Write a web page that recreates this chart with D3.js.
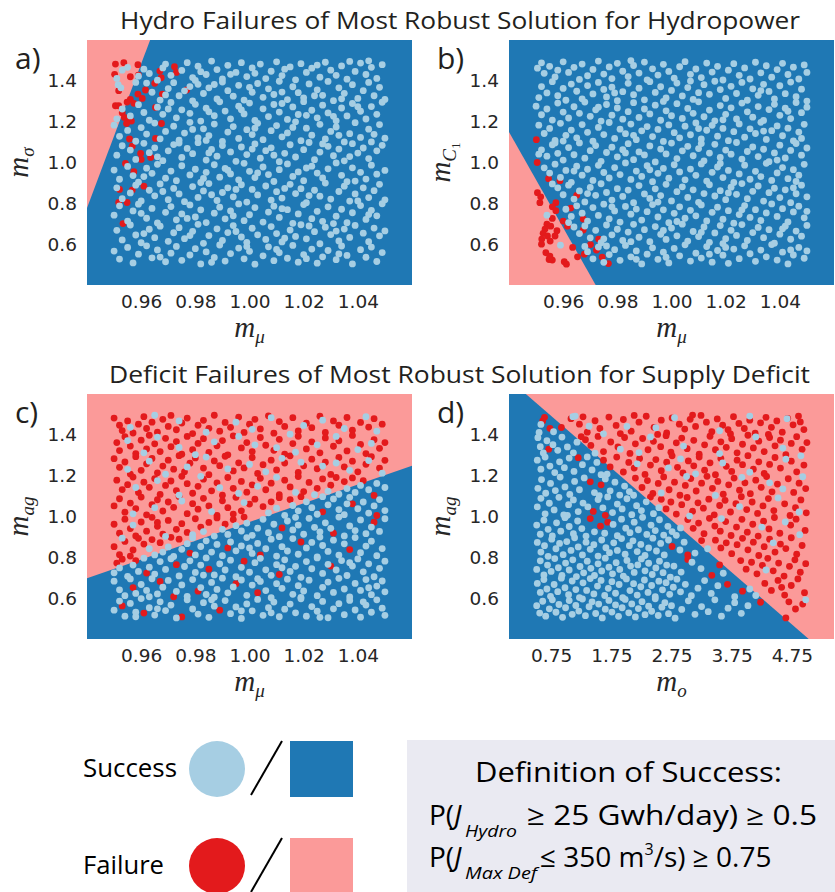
<!DOCTYPE html>
<html><head><meta charset="utf-8">
<script src="https://cdn.jsdelivr.net/npm/d3@7"></script>
<style>body{margin:0;background:#fff}</style>
</head><body>
<svg id="fig" width="835" height="892"></svg>
<script>
// Axis ticks
const muTicks=[0.96,0.98,1.00,1.02,1.04];
const oTicks=[0.75,1.75,2.75,3.75,4.75];
const mTicks=[0.6,0.8,1.0,1.2,1.4];
// Plotted ranges (sampled range padded by 10%)
const muDomain=[0.94,1.06], oDomain=[0.05,5.45], mDomain=[0.4,1.6];
// Classifier boundaries: two end points [x, y] in data units
const boundaryHydroSigma=[[0.9633,1.6],[0.94,0.777]];
const boundaryHydroC1=[[0.94,1.149],[0.972,0.4]];
const boundaryDeficitMu=[[0.94,0.698],[1.06,1.248]];
const boundaryDeficitO=[[0.33,1.6],[5.03,0.4]];

// a) hydro outcome vs (m_mu, m_sigma)
const hydroSigmaFail=[[.9505,1.482],[.9536,1.489],[.9588,1.479],[.9502,1.432],[.956,1.42],[.959,1.428],[.9669,1.448],[.9723,1.469],[.973,1.441],[.9674,1.415],[.965,1.388],[.9768,1.355],[.9517,1.352],[.9616,1.355],[.9588,1.335],[.9604,1.314],[.9678,1.335],[.956,1.309],[.9548,1.296],[.9573,1.29],[.9505,1.278],[.9517,1.278],[.9653,1.27],[.953,1.244],[.9538,1.221],[.9551,1.203],[.9564,1.203],[.9546,1.191],[.9675,1.191],[.9557,1.115],[.9653,1.118],[.9567,1.08],[.9598,1.044],[.9635,1.025],[.96,1.015],[.9542,.995],[.9573,.955],[.961,.884],[.952,.868],[.9567,.865],[.9517,.804],[.9548,.804],[.9533,.701]];
const hydroSigmaOk=[
[.951,1.412],[.953,1.452],[.955,1.466],[.959,1.423],[.961,1.457],[.963,1.436],[.966,1.403],[.968,1.463],[.969,1.482],[.971,1.427],[.975,1.451],[.977,1.489],[.979,1.416],[.981,1.472],[.982,1.445],[.984,1.431],[.986,1.497],[.988,1.455],[.990,1.409],[.992,1.476],[.993,1.432],[.995,1.441],[.997,1.489],[.999,1.421],[1.001,1.463],[1.004,1.482],[1.006,1.411],[1.008,1.447],[1.010,1.493],[1.012,1.426],[1.013,1.457],[1.015,1.468],[1.017,1.405],[1.019,1.484],[1.021,1.441],[1.023,1.462],[1.025,1.477],[1.026,1.418],[1.028,1.491],[1.030,1.452],[1.032,1.427],[1.034,1.473],[1.036,1.408],[1.037,1.495],[1.039,1.446],[1.041,1.487],[1.043,1.431],[1.045,1.466],[1.047,1.412],[1.049,1.479],[1.044,1.498],[1.002,1.437],[.980,1.402],
[.9515,1.381],[.9525,1.366],[.958,1.392],[.962,1.389],[.964,1.344],[.967,1.306],[.970,1.362],[.972,1.391],[.974,1.327],[.976,1.351],[.979,1.302],[.981,1.383],[.983,1.338],[.985,1.366],[.988,1.311],[.990,1.394],[.992,1.352],[.994,1.325],[.996,1.378],[.998,1.306],[1.001,1.344],[1.003,1.387],[1.005,1.319],[1.007,1.361],[1.009,1.333],[1.011,1.398],[1.014,1.308],[1.016,1.371],[1.018,1.342],[1.020,1.317],[1.022,1.385],[1.025,1.356],[1.027,1.329],[1.029,1.397],[1.031,1.303],[1.033,1.366],[1.035,1.339],[1.038,1.381],[1.040,1.314],[1.042,1.352],[1.044,1.392],[1.046,1.327],[1.048,1.368],[1.050,1.309],[.978,1.372],[1.012,1.345],[1.034,1.312],[.987,1.382],[1.000,1.368],[1.024,1.327],[.969,1.331],
[.951,1.214],[.953,1.262],[.956,1.228],[.959,1.283],[.961,1.245],[.963,1.207],[.966,1.271],[.968,1.236],[.971,1.294],[.973,1.219],[.975,1.258],[.978,1.241],[.980,1.285],[.982,1.203],[.984,1.266],[.987,1.229],[.989,1.297],[.991,1.252],[.993,1.214],[.996,1.276],[.998,1.238],[1.000,1.291],[1.002,1.206],[1.005,1.263],[1.007,1.225],[1.009,1.284],[1.011,1.247],[1.014,1.211],[1.016,1.272],[1.018,1.235],[1.020,1.298],[1.023,1.256],[1.025,1.219],[1.027,1.281],[1.029,1.243],[1.032,1.204],[1.034,1.267],[1.036,1.228],[1.038,1.289],[1.041,1.251],[1.043,1.213],[1.045,1.274],[1.047,1.236],[1.049,1.295],[.997,1.258],[1.021,1.231],[1.040,1.273],[.970,1.262],[.985,1.248],[1.012,1.289],[1.031,1.226],
[.950,1.183],[.952,1.128],[.955,1.157],[.958,1.104],[.960,1.171],[.962,1.139],[.965,1.193],[.967,1.116],[.969,1.152],[.972,1.178],[.974,1.109],[.976,1.144],[.978,1.197],[.981,1.121],[.983,1.165],[.985,1.132],[.987,1.188],[.990,1.103],[.992,1.149],[.994,1.176],[.996,1.118],[.999,1.161],[1.001,1.137],[1.003,1.192],[1.005,1.112],[1.008,1.156],[1.010,1.181],[1.012,1.126],[1.014,1.145],[1.017,1.199],[1.019,1.107],[1.021,1.168],[1.023,1.134],[1.026,1.187],[1.028,1.115],[1.030,1.152],[1.032,1.174],[1.035,1.101],[1.037,1.141],[1.039,1.195],[1.041,1.123],[1.044,1.163],[1.046,1.138],[1.048,1.186],[1.050,1.119],[.979,1.162],[1.002,1.168],[1.033,1.133],[.984,1.108],[1.016,1.172],[1.045,1.101],
[.951,1.036],[.953,1.082],[.956,1.061],[.958,1.015],[.961,1.094],[.963,1.048],[.965,1.072],[.968,1.009],[.970,1.057],[.972,1.088],[.975,1.025],[.977,1.069],[.979,1.043],[.981,1.097],[.984,1.012],[.986,1.064],[.988,1.031],[.990,1.083],[.993,1.052],[.995,1.006],[.997,1.076],[.999,1.039],[1.002,1.091],[1.004,1.021],[1.006,1.058],[1.008,1.072],[1.011,1.004],[1.013,1.045],[1.015,1.087],[1.017,1.027],[1.020,1.063],[1.022,1.098],[1.024,1.014],[1.026,1.051],[1.029,1.079],[1.031,1.033],[1.033,1.066],[1.035,1.008],[1.038,1.092],[1.040,1.046],[1.042,1.071],[1.044,1.019],[1.047,1.057],[1.049,1.084],[.974,1.095],[1.009,1.036],[1.037,1.029],[.985,1.047],[.966,1.028],[1.001,1.066],[1.027,1.091],
[.950,.963],[.952,.918],[.955,.981],[.957,.936],[.959,.904],[.962,.972],[.964,.947],[.966,.991],[.969,.923],[.971,.958],[.973,.911],[.975,.984],[.978,.939],[.980,.967],[.982,.902],[.984,.952],[.987,.989],[.989,.928],[.991,.971],[.993,.944],[.996,.915],[.998,.996],[1.000,.957],[1.002,.926],[1.005,.978],[1.007,.941],[1.009,.907],[1.011,.965],[1.014,.993],[1.016,.932],[1.018,.954],[1.020,.911],[1.023,.982],[1.025,.948],[1.027,.924],[1.029,.969],[1.032,.998],[1.034,.937],[1.036,.906],[1.038,.974],[1.041,.952],[1.043,.919],[1.045,.987],[1.047,.943],[1.050,.961],[.983,.922],[1.021,.973],[1.003,.949],[.961,.931],[.992,.962],[1.039,.909],
[.951,.876],[.953,.823],[.956,.851],[.958,.889],[.960,.812],[.963,.864],[.965,.837],[.967,.895],[.970,.818],[.972,.873],[.974,.846],[.976,.808],[.979,.882],[.981,.829],[.983,.861],[.985,.897],[.988,.814],[.990,.853],[.992,.876],[.994,.832],[.997,.891],[.999,.806],[1.001,.868],[1.003,.841],[1.006,.885],[1.008,.816],[1.010,.857],[1.012,.826],[1.015,.893],[1.017,.848],[1.019,.872],[1.021,.803],[1.024,.864],[1.026,.835],[1.028,.899],[1.030,.821],[1.033,.858],[1.035,.884],[1.037,.811],[1.039,.846],[1.042,.876],[1.044,.828],[1.046,.862],[1.048,.893],[1.050,.817],[.986,.842],[1.013,.873],[1.040,.812],[.968,.858],[.995,.868],[1.022,.838],
[.950,.742],[.952,.788],[.955,.713],[.957,.763],[.959,.796],[.962,.727],[.964,.775],[.966,.704],[.969,.756],[.971,.784],[.973,.719],[.975,.748],[.978,.792],[.980,.733],[.982,.768],[.984,.706],[.987,.752],[.989,.781],[.991,.724],[.993,.763],[.996,.797],[.998,.715],[1.000,.744],[1.002,.779],[1.005,.708],[1.007,.757],[1.009,.786],[1.011,.731],[1.014,.769],[1.016,.702],[1.018,.748],[1.020,.794],[1.023,.725],[1.025,.761],[1.027,.712],[1.029,.783],[1.032,.737],[1.034,.771],[1.036,.705],[1.038,.754],[1.041,.789],[1.043,.721],[1.045,.766],[1.047,.739],[1.049,.798],[.977,.726],[1.012,.774],[1.031,.701],[.960,.751],[.994,.739],[1.044,.745],
[.951,.668],[.953,.621],[.956,.694],[.958,.645],[.960,.607],[.963,.673],[.965,.632],[.967,.688],[.970,.614],[.972,.656],[.974,.681],[.976,.627],[.979,.663],[.981,.697],[.983,.604],[.985,.642],[.988,.675],[.990,.618],[.992,.657],[.994,.691],[.997,.635],[.999,.609],[1.001,.678],[1.003,.646],[1.006,.623],[1.008,.686],[1.010,.652],[1.012,.611],[1.015,.669],[1.017,.638],[1.019,.695],[1.021,.626],[1.024,.661],[1.026,.602],[1.028,.683],[1.030,.647],[1.033,.616],[1.035,.674],[1.037,.633],[1.039,.692],[1.042,.654],[1.044,.612],[1.046,.679],[1.048,.641],[1.050,.665],[.995,.662],[1.022,.689],[.961,.652],[.978,.642],[1.013,.629],[1.032,.664],
[.950,.566],[.952,.527],[.955,.584],[.957,.508],[.959,.551],[.962,.592],[.964,.533],[.966,.572],[.969,.514],[.971,.556],[.973,.589],[.975,.521],[.978,.547],[.980,.578],[.982,.503],[.984,.562],[.987,.535],[.989,.596],[.991,.517],[.993,.554],[.996,.581],[.998,.528],[1.000,.565],[1.002,.502],[1.005,.543],[1.007,.587],[1.009,.519],[1.011,.558],[1.014,.531],[1.016,.594],[1.018,.512],[1.020,.549],[1.023,.576],[1.025,.507],[1.027,.538],[1.029,.569],[1.032,.524],[1.034,.591],[1.036,.545],[1.038,.503],[1.041,.573],[1.043,.536],[1.045,.586],[1.047,.515],[1.049,.559],[1.010,.574],[.986,.511],[1.033,.552],[.967,.537],[.999,.589],[1.021,.529]];

// b) hydro outcome vs (m_mu, m_C1)
const hydroC1Fail=[[.9501,1.112],[.9504,1.0],[.9546,.921],[.9588,.911],[.9505,.852],[.9517,.832],[.9514,.803],[.9573,.803],[.956,.783],[.9573,.764],[.965,.839],[.956,.726],[.96,.713],[.9674,.723],[.9616,.688],[.954,.698],[.9554,.688],[.9577,.666],[.9533,.674],[.9526,.653],[.9542,.64],[.957,.64],[.9521,.625],[.9552,.615],[.952,.6],[.9674,.669],[.9635,.584],[.9731,.625],[.9536,.558],[.9551,.541],[.956,.522],[.9548,.525],[.9653,.538],[.9678,.551],[.9604,.514],[.9612,.502],[.9723,.571],[.9767,.505],[.9701,.598],[.9744,.537],[.9628,.777]];
const hydroC1Ok=[
[.9505,1.462],[.952,1.488],[.953,1.437],[.955,1.471],[.957,1.419],[.958,1.452],[.960,1.493],[.962,1.441],[.964,1.466],[.966,1.407],[.967,1.482],[.969,1.425],[.971,1.456],[.973,1.497],[.975,1.433],[.977,1.468],[.978,1.411],[.980,1.486],[.982,1.447],[.984,1.421],[.986,1.475],[.988,1.438],[.990,1.492],[.991,1.405],[.993,1.459],[.995,1.428],[.997,1.481],[.999,1.446],[1.001,1.413],[1.003,1.469],[1.005,1.494],[1.007,1.432],[1.009,1.458],[1.011,1.416],[1.013,1.487],[1.015,1.443],[1.017,1.471],[1.019,1.404],[1.021,1.452],[1.023,1.484],[1.025,1.427],[1.027,1.463],[1.029,1.409],[1.031,1.491],[1.033,1.439],[1.035,1.474],[1.037,1.418],[1.039,1.455],[1.041,1.486],[1.043,1.431],[1.045,1.467],[1.047,1.409],[1.049,1.478],[1.050,1.441],[.985,1.499],
[.951,1.318],[.952,1.372],[.954,1.341],[.956,1.396],[.958,1.327],[.960,1.363],[.961,1.305],[.963,1.384],[.965,1.349],[.967,1.312],[.969,1.377],[.971,1.336],[.973,1.392],[.975,1.358],[.976,1.321],[.978,1.369],[.980,1.303],[.982,1.347],[.984,1.388],[.986,1.332],[.988,1.364],[.990,1.307],[.992,1.396],[.994,1.343],[.996,1.371],[.998,1.316],[1.000,1.353],[1.002,1.389],[1.004,1.326],[1.006,1.367],[1.008,1.309],[1.010,1.342],[1.012,1.381],[1.014,1.334],[1.016,1.398],[1.018,1.357],[1.020,1.314],[1.022,1.373],[1.024,1.338],[1.026,1.392],[1.028,1.305],[1.030,1.361],[1.032,1.329],[1.034,1.383],[1.036,1.348],[1.038,1.311],[1.040,1.376],[1.042,1.337],[1.044,1.394],[1.046,1.322],[1.048,1.359],[1.050,1.301],[.979,1.341],[1.007,1.399],[1.033,1.352],
[.950,1.276],[.952,1.234],[.954,1.262],[.956,1.208],[.958,1.291],[.960,1.247],[.962,1.218],[.964,1.273],[.966,1.241],[.968,1.296],[.970,1.226],[.972,1.258],[.974,1.203],[.976,1.284],[.978,1.232],[.980,1.267],[.982,1.212],[.984,1.249],[.986,1.293],[.988,1.221],[.990,1.262],[.992,1.238],[.994,1.281],[.996,1.207],[.998,1.253],[1.000,1.229],[1.002,1.288],[1.004,1.216],[1.006,1.265],[1.008,1.241],[1.010,1.297],[1.012,1.224],[1.014,1.257],[1.016,1.204],[1.018,1.279],[1.020,1.236],[1.022,1.268],[1.024,1.213],[1.026,1.291],[1.028,1.248],[1.030,1.222],[1.032,1.274],[1.034,1.206],[1.036,1.259],[1.038,1.285],[1.040,1.231],[1.042,1.266],[1.044,1.215],[1.046,1.294],[1.048,1.244],[1.050,1.271],[.973,1.271],[.997,1.299],[1.019,1.209],[1.043,1.251],
[.951,1.183],[.953,1.142],[.955,1.167],[.957,1.108],[.959,1.192],[.961,1.133],[.963,1.159],[.965,1.121],[.967,1.186],[.969,1.148],[.971,1.104],[.973,1.172],[.975,1.137],[.977,1.196],[.979,1.118],[.981,1.163],[.983,1.141],[.985,1.188],[.987,1.112],[.989,1.155],[.991,1.176],[.993,1.127],[.995,1.162],[.997,1.103],[.999,1.184],[1.001,1.146],[1.003,1.121],[1.005,1.178],[1.007,1.136],[1.009,1.194],[1.011,1.115],[1.013,1.158],[1.015,1.182],[1.017,1.129],[1.019,1.167],[1.021,1.107],[1.023,1.151],[1.025,1.189],[1.027,1.124],[1.029,1.165],[1.031,1.142],[1.033,1.197],[1.035,1.113],[1.037,1.156],[1.039,1.179],[1.041,1.131],[1.043,1.168],[1.045,1.106],[1.047,1.149],[1.049,1.187],[.960,1.105],[.986,1.133],[1.010,1.166],[1.034,1.154],[1.048,1.118],
[.952,1.062],[.954,1.031],[.956,1.087],[.958,1.045],[.960,1.012],[.962,1.073],[.964,1.038],[.966,1.096],[.968,1.021],[.970,1.058],[.972,1.083],[.974,1.006],[.976,1.049],[.978,1.075],[.980,1.028],[.982,1.063],[.984,1.092],[.986,1.014],[.988,1.052],[.990,1.037],[.992,1.081],[.994,1.003],[.996,1.066],[.998,1.042],[1.000,1.095],[1.002,1.019],[1.004,1.057],[1.006,1.079],[1.008,1.033],[1.010,1.068],[1.012,1.008],[1.014,1.046],[1.016,1.089],[1.018,1.025],[1.020,1.061],[1.022,1.041],[1.024,1.098],[1.026,1.017],[1.028,1.054],[1.030,1.076],[1.032,1.029],[1.034,1.065],[1.036,1.004],[1.038,1.047],[1.040,1.085],[1.042,1.022],[1.044,1.059],[1.046,1.093],[1.048,1.036],[1.050,1.071],[.951,1.041],[.957,1.096],[.983,1.047],[1.011,1.093],[1.039,1.012],
[.953,.974],[.955,.948],[.957,.992],[.959,.927],[.961,.961],[.963,.903],[.965,.982],[.967,.938],[.969,.967],[.971,.912],[.973,.986],[.975,.951],[.977,.924],[.979,.975],[.981,.941],[.983,.998],[.985,.917],[.987,.958],[.989,.932],[.991,.984],[.993,.906],[.995,.947],[.997,.971],[.999,.923],[1.001,.989],[1.003,.954],[1.005,.915],[1.007,.968],[1.009,.937],[1.011,.993],[1.013,.909],[1.015,.952],[1.017,.978],[1.019,.926],[1.021,.961],[1.023,.902],[1.025,.944],[1.027,.987],[1.029,.918],[1.031,.957],[1.033,.931],[1.035,.996],[1.037,.912],[1.039,.949],[1.041,.975],[1.043,.921],[1.045,.965],[1.047,.938],[1.049,.991],[.964,.958],[.992,.964],[1.018,.995],[1.046,.907],
[.958,.876],[.960,.842],[.962,.889],[.964,.821],[.966,.861],[.968,.807],[.970,.878],[.972,.839],[.974,.896],[.976,.853],[.978,.816],[.980,.872],[.982,.834],[.984,.865],[.986,.803],[.988,.887],[.990,.846],[.992,.824],[.994,.871],[.996,.838],[.998,.893],[1.000,.812],[1.002,.857],[1.004,.881],[1.006,.829],[1.008,.866],[1.010,.805],[1.012,.848],[1.014,.891],[1.016,.836],[1.018,.862],[1.020,.818],[1.022,.879],[1.024,.844],[1.026,.897],[1.028,.823],[1.030,.859],[1.032,.885],[1.034,.811],[1.036,.852],[1.038,.874],[1.040,.828],[1.042,.866],[1.044,.803],[1.046,.847],[1.048,.889],[1.050,.832],[.969,.848],[.995,.806],[1.021,.851],[1.045,.876],[.956,.895],
[.954,.742],[.961,.771],[.963,.736],[.965,.788],[.967,.752],[.969,.713],[.971,.779],[.973,.741],[.975,.796],[.977,.724],[.979,.763],[.981,.708],[.983,.785],[.985,.747],[.987,.772],[.989,.718],[.991,.759],[.993,.794],[.995,.733],[.997,.768],[.999,.705],[1.001,.751],[1.003,.783],[1.005,.727],[1.007,.766],[1.009,.739],[1.011,.792],[1.013,.714],[1.015,.756],[1.017,.781],[1.019,.722],[1.021,.764],[1.023,.703],[1.025,.745],[1.027,.789],[1.029,.731],[1.031,.769],[1.033,.716],[1.035,.753],[1.037,.797],[1.039,.736],[1.041,.774],[1.043,.709],[1.045,.758],[1.047,.786],[1.049,.729],[.978,.783],[1.002,.711],[1.026,.768],[1.050,.761],[.962,.706],
[.966,.652],[.968,.689],[.970,.631],[.972,.668],[.974,.607],[.976,.694],[.978,.646],[.980,.673],[.982,.618],[.984,.659],[.986,.697],[.988,.634],[.990,.671],[.992,.612],[.994,.686],[.996,.648],[.998,.623],[1.000,.679],[1.002,.641],[1.004,.698],[1.006,.615],[1.008,.662],[1.010,.637],[1.012,.684],[1.014,.609],[1.016,.655],[1.018,.691],[1.020,.627],[1.022,.668],[1.024,.643],[1.026,.696],[1.028,.618],[1.030,.657],[1.032,.682],[1.034,.632],[1.036,.671],[1.038,.605],[1.040,.649],[1.042,.688],[1.044,.624],[1.046,.664],[1.048,.639],[1.050,.692],[.975,.626],[.997,.667],[1.019,.603],[1.041,.675],[.964,.684],[.985,.612],[1.011,.658],
[.959,.595],[.969,.563],[.971,.528],[.973,.586],[.975,.511],[.977,.549],[.979,.573],[.981,.521],[.983,.594],[.985,.538],[.987,.567],[.989,.503],[.991,.551],[.993,.582],[.995,.526],[.997,.561],[.999,.508],[1.001,.579],[1.003,.543],[1.005,.597],[1.007,.517],[1.009,.556],[1.011,.532],[1.013,.588],[1.015,.512],[1.017,.569],[1.019,.546],[1.021,.506],[1.023,.576],[1.025,.529],[1.027,.592],[1.029,.553],[1.031,.516],[1.033,.571],[1.035,.538],[1.037,.598],[1.039,.522],[1.041,.561],[1.043,.503],[1.045,.547],[1.047,.584],[1.049,.531],[1.050,.567],[.976,.591],[.998,.536],[1.020,.584],[1.044,.572],[.987,.526],[1.014,.551],[.968,.589]];

// c) deficit outcome vs (m_mu, m_ag)
const deficitMuFail=[
[.950,1.482],[.952,1.447],[.953,1.421],[.955,1.468],[.957,1.409],[.959,1.452],[.961,1.489],[.962,1.431],[.964,1.462],[.966,1.413],[.968,1.476],[.970,1.441],[.971,1.495],[.973,1.425],[.975,1.458],[.977,1.482],[.979,1.406],[.981,1.447],[.983,1.471],[.985,1.432],[.987,1.496],[.989,1.418],[.991,1.461],[.993,1.437],[.996,1.487],[.998,1.412],[1.000,1.452],[1.002,1.476],[1.004,1.429],[1.007,1.493],[1.009,1.408],[1.011,1.465],[1.013,1.441],[1.016,1.484],[1.018,1.419],[1.021,1.457],[1.023,1.435],[1.026,1.491],[1.028,1.412],[1.031,1.468],[1.033,1.447],[1.036,1.485],[1.038,1.423],[1.041,1.461],[1.044,1.438],[1.046,1.479],[1.049,1.452],
[.951,1.362],[.952,1.323],[.954,1.391],[.956,1.345],[.958,1.308],[.960,1.374],[.962,1.331],[.963,1.398],[.965,1.356],[.967,1.318],[.969,1.383],[.971,1.342],[.973,1.367],[.975,1.305],[.977,1.392],[.979,1.327],[.981,1.358],[.983,1.381],[.985,1.314],[.988,1.346],[.990,1.372],[.992,1.302],[.994,1.395],[.997,1.336],[.999,1.362],[1.001,1.318],[1.004,1.387],[1.006,1.349],[1.009,1.324],[1.011,1.378],[1.013,1.306],[1.016,1.357],[1.018,1.393],[1.021,1.331],[1.023,1.366],[1.026,1.312],[1.028,1.385],[1.031,1.344],[1.033,1.371],[1.036,1.321],[1.038,1.397],[1.041,1.353],[1.043,1.308],[1.046,1.376],[1.048,1.334],[1.050,1.362],
[.950,1.283],[.952,1.241],[.954,1.267],[.956,1.208],[.958,1.293],[.960,1.226],[.962,1.258],[.964,1.284],[.966,1.214],[.968,1.247],[.970,1.276],[.972,1.232],[.974,1.298],[.976,1.219],[.978,1.261],[.980,1.287],[.983,1.237],[.985,1.205],[.987,1.272],[.989,1.249],[.991,1.295],[.994,1.223],[.996,1.263],[.998,1.238],[1.001,1.289],[1.003,1.211],[1.005,1.254],[1.008,1.276],[1.010,1.228],[1.013,1.262],[1.015,1.297],[1.018,1.216],[1.020,1.248],[1.023,1.281],[1.025,1.234],[1.028,1.266],[1.030,1.206],[1.033,1.289],[1.035,1.243],[1.038,1.271],[1.040,1.219],[1.043,1.256],[1.045,1.293],[1.048,1.237],[1.050,1.275],
[.951,1.178],[.953,1.132],[.955,1.156],[.957,1.193],[.959,1.117],[.961,1.168],[.963,1.143],[.965,1.186],[.967,1.108],[.969,1.152],[.971,1.174],[.973,1.127],[.975,1.197],[.977,1.161],[.979,1.114],[.981,1.148],[.983,1.183],[.986,1.126],[.988,1.165],[.990,1.104],[.992,1.191],[.994,1.138],[.997,1.172],[.999,1.119],[1.001,1.155],[1.004,1.187],[1.006,1.131],[1.008,1.163],[1.011,1.107],[1.013,1.178],[1.015,1.145],[1.018,1.196],[1.020,1.122],[1.022,1.167],[1.025,1.138],[1.027,1.184],[1.030,1.153],[1.032,1.191],[1.035,1.171],[1.038,1.189],[1.042,1.175],[1.046,1.103],
[.950,1.052],[.952,1.087],[.954,1.021],[.956,1.066],[.958,1.039],[.960,1.095],[.962,1.008],[.964,1.058],[.966,1.082],[.968,1.027],[.970,1.071],[.972,1.045],[.974,1.098],[.977,1.014],[.979,1.063],[.981,1.036],[.983,1.089],[.985,1.052],[.988,1.005],[.990,1.077],[.992,1.043],[.995,1.094],[.997,1.028],[1.000,1.061],[1.002,1.085],[1.005,1.048],[1.008,1.072],[1.011,1.092],[1.015,1.083],[1.019,1.097],[.994,1.012],[1.027,1.023],[1.038,1.062],[1.047,1.005],
[.950,.962],[.952,.918],[.954,.987],[.956,.941],[.958,.905],[.960,.973],[.962,.928],[.964,.996],[.966,.952],[.968,.914],[.970,.981],[.973,.937],[.975,.965],[.977,.922],[.980,.989],[.982,.948],[.985,.971],[.988,.993],[.991,.962],[.994,.985],[.998,.997],[.966,.971],[1.012,.944],[1.031,.918],[1.046,.972],
[.950,.852],[.952,.813],[.954,.878],[.957,.836],[.959,.893],[.961,.865],[.964,.887],[.967,.872],[.971,.898],[.974,.889],[.956,.806],[.978,.821],[.992,.846],[1.004,.812],[1.019,.875],[1.037,.838],
[.951,.772],[.953,.791],[.958,.784],[.962,.723],[.973,.764],[.985,.742],[.998,.781],[1.011,.716],[1.030,.757],
[.957,.652],[.967,.682],[.981,.634],[.995,.671],[1.003,.627],[.972,.607],
[.953,.562],[.961,.527],[.975,.508],[.989,.541]];
const deficitMuOk=[
[.956,1.437],[.965,1.496],[.974,1.468],[.984,1.413],[.995,1.462],[1.001,1.427],[1.008,1.484],[1.015,1.403],[1.020,1.446],[1.027,1.472],[1.035,1.431],[1.043,1.489],[1.047,1.418],
[.955,1.372],[.961,1.312],[.966,1.389],[.974,1.338],[.980,1.303],[.987,1.366],[.996,1.392],[1.002,1.351],[1.010,1.337],[1.017,1.315],[1.025,1.351],[1.032,1.392],[1.040,1.328],[1.045,1.358],
[.955,1.231],[.963,1.271],[.969,1.207],[.977,1.243],[.984,1.291],[.992,1.233],[1.000,1.255],[1.006,1.219],[1.012,1.285],[1.019,1.266],[1.027,1.247],[1.032,1.262],[1.037,1.226],[1.044,1.274],[1.049,1.212],
[.958,1.142],[.966,1.176],[.974,1.105],[.982,1.197],[.989,1.141],[.996,1.113],[1.003,1.148],[1.010,1.192],[1.017,1.118],[1.024,1.107],[1.029,1.124],[1.033,1.109],[1.036,1.137],[1.039,1.118],[1.041,1.152],[1.044,1.131],[1.047,1.162],[1.050,1.142],
[.957,1.013],[.965,1.043],[.975,1.076],[.986,1.024],[.998,1.068],[1.007,1.018],[1.010,1.041],[1.013,1.006],[1.016,1.054],[1.018,1.028],[1.021,1.072],[1.023,1.043],[1.025,1.011],[1.029,1.057],[1.031,1.086],[1.033,1.034],[1.035,1.009],[1.037,1.094],[1.040,1.038],[1.042,1.071],[1.044,1.017],[1.046,1.052],[1.048,1.083],[1.050,1.029],[1.036,1.062],[1.027,1.097],
[.957,.958],[.969,.903],[.979,.911],[.983,.926],[.987,.904],[.990,.937],[.992,.912],[.995,.955],[.997,.929],[.999,.968],[1.001,.908],[1.003,.943],[1.005,.986],[1.007,.921],[1.009,.962],[1.011,.901],[1.014,.978],[1.016,.934],[1.018,.958],[1.020,.913],[1.022,.991],[1.024,.947],[1.026,.925],[1.028,.969],[1.030,.942],[1.033,.997],[1.035,.905],[1.037,.954],[1.039,.931],[1.041,.983],[1.043,.916],[1.045,.948],[1.048,.927],[1.050,.989],[1.017,.996],
[.953,.894],[.963,.842],[.965,.812],[.968,.826],[.970,.851],[.972,.804],[.975,.839],[.977,.867],[.980,.812],[.982,.853],[.984,.881],[.986,.826],[.988,.863],[.990,.808],[.993,.875],[.995,.832],[.997,.856],[.999,.897],[1.001,.819],[1.003,.868],[1.006,.842],[1.008,.889],[1.010,.806],[1.012,.852],[1.014,.831],[1.016,.892],[1.018,.815],[1.021,.846],[1.023,.873],[1.025,.802],[1.027,.858],[1.029,.829],[1.031,.884],[1.033,.811],[1.035,.866],[1.039,.897],[1.041,.823],[1.043,.855],[1.045,.879],[1.047,.808],[1.049,.843],[.979,.895],[1.000,.846],[1.026,.899],
[.950,.724],[.952,.748],[.955,.707],[.957,.762],[.959,.731],[.961,.796],[.963,.752],[.965,.718],[.967,.779],[.969,.741],[.971,.793],[.974,.709],[.976,.755],[.978,.783],[.980,.726],[.982,.762],[.984,.797],[.987,.714],[.989,.768],[.991,.738],[.993,.786],[.995,.705],[.997,.751],[1.000,.727],[1.002,.774],[1.004,.795],[1.006,.739],[1.008,.712],[1.010,.764],[1.013,.788],[1.015,.731],[1.017,.756],[1.019,.702],[1.021,.779],[1.023,.744],[1.025,.797],[1.027,.721],[1.029,.766],[1.032,.738],[1.034,.784],[1.036,.711],[1.038,.757],[1.040,.792],[1.042,.729],[1.044,.768],[1.046,.705],[1.048,.746],[1.050,.781],[.983,.713],[1.012,.749],[1.037,.774],
[.950,.683],[.952,.641],[.954,.612],[.956,.694],[.958,.623],[.960,.667],[.962,.638],[.964,.695],[.966,.621],[.968,.654],[.970,.687],[.973,.633],[.975,.665],[.977,.609],[.979,.691],[.982,.652],[.984,.618],[.986,.677],[.988,.643],[.990,.698],[.992,.626],[.994,.655],[.997,.689],[.999,.614],[1.001,.664],[1.004,.682],[1.006,.637],[1.008,.602],[1.010,.671],[1.012,.648],[1.014,.693],[1.016,.619],[1.018,.661],[1.020,.635],[1.022,.688],[1.025,.612],[1.027,.653],[1.029,.679],[1.031,.628],[1.033,.697],[1.035,.645],[1.037,.606],[1.039,.672],[1.041,.638],[1.043,.691],[1.045,.617],[1.047,.659],[1.049,.684],[1.050,.631],[.963,.607],[.987,.605],[1.019,.604],[1.044,.651],[1.003,.695],
[.950,.541],[.952,.586],[.954,.512],[.956,.574],[.958,.531],[.960,.598],[.963,.553],[.965,.517],[.967,.582],[.969,.539],[.971,.566],[.973,.503],[.977,.592],[.979,.547],[.981,.522],[.983,.578],[.985,.506],[.987,.561],[.991,.588],[.993,.524],[.995,.557],[.997,.501],[.999,.572],[1.001,.538],[1.003,.594],[1.005,.516],[1.007,.553],[1.009,.581],[1.011,.509],[1.013,.546],[1.015,.571],[1.017,.528],[1.019,.597],[1.021,.512],[1.023,.559],[1.025,.536],[1.027,.584],[1.029,.504],[1.031,.548],[1.033,.573],[1.035,.519],[1.037,.589],[1.039,.542],[1.041,.507],[1.043,.566],[1.045,.531],[1.047,.592],[1.049,.551],[1.050,.516],[.966,.548],[.986,.592],[1.008,.528],[1.026,.506],[1.042,.582],[.958,.509],[.997,.538]];

// d) deficit outcome vs (m_o, m_ag)
const deficitOFail=[
[.61,1.468],[.64,1.486],[.73,1.432],[.92,1.436],[1.08,1.479],[1.22,1.452],[1.35,1.413],[1.48,1.469],[1.56,1.431],[1.71,1.487],[1.83,1.446],[1.95,1.475],[2.08,1.418],[2.21,1.462],[2.33,1.491],[2.46,1.437],[2.58,1.472],[2.67,1.409],[2.76,1.483],[2.88,1.452],[2.97,1.428],[3.06,1.476],[3.15,1.441],[3.24,1.495],[3.33,1.462],[3.42,1.415],[3.51,1.478],[3.60,1.447],[3.69,1.425],[3.78,1.489],[3.87,1.456],[3.96,1.431],[4.05,1.472],[4.14,1.408],[4.23,1.459],[4.32,1.486],[4.41,1.437],[4.50,1.468],[4.59,1.413],[4.68,1.481],[4.77,1.449],[4.86,1.492],[4.95,1.426],[1.28,1.488],[1.90,1.406],[2.52,1.402],[3.10,1.497],[3.73,1.404],[4.36,1.402],[4.89,1.463],[2.13,1.495],
[.71,1.33],[1.32,1.376],[1.41,1.348],[1.53,1.392],[1.62,1.318],[1.74,1.365],[1.86,1.341],[1.97,1.387],[2.06,1.309],[2.15,1.356],[2.27,1.382],[2.36,1.327],[2.45,1.368],[2.57,1.342],[2.66,1.396],[2.74,1.315],[2.83,1.361],[2.92,1.384],[3.01,1.332],[3.12,1.373],[3.21,1.305],[3.30,1.351],[3.39,1.393],[3.48,1.327],[3.57,1.366],[3.66,1.339],[3.75,1.381],[3.84,1.312],[3.93,1.354],[4.02,1.398],[4.11,1.336],[4.20,1.369],[4.29,1.318],[4.38,1.387],[4.47,1.346],[4.56,1.374],[4.65,1.303],[4.74,1.358],[4.83,1.391],[4.92,1.329],[5.00,1.362],[1.25,1.391],
[1.20,1.288],[1.62,1.276],[1.73,1.243],[1.84,1.291],[1.95,1.218],[2.04,1.265],[2.13,1.237],[2.22,1.284],[2.31,1.206],[2.40,1.252],[2.49,1.279],[2.58,1.224],[2.67,1.266],[2.76,1.297],[2.85,1.241],[2.94,1.213],[3.03,1.272],[3.12,1.248],[3.21,1.291],[3.30,1.227],[3.39,1.263],[3.48,1.205],[3.57,1.284],[3.66,1.246],[3.75,1.221],[3.84,1.276],[3.93,1.254],[4.02,1.298],[4.11,1.232],[4.20,1.268],[4.29,1.211],[4.38,1.255],[4.47,1.289],[4.56,1.237],[4.74,1.271],[4.83,1.219],[4.95,1.252],
[1.40,1.17],[1.58,1.155],[2.15,1.188],[2.26,1.142],[2.35,1.176],[2.44,1.113],[2.53,1.162],[2.62,1.194],[2.71,1.131],[2.80,1.168],[2.89,1.104],[2.98,1.152],[3.07,1.186],[3.16,1.125],[3.25,1.163],[3.34,1.197],[3.43,1.138],[3.52,1.172],[3.61,1.109],[3.70,1.155],[3.79,1.188],[3.88,1.129],[3.97,1.165],[4.06,1.112],[4.15,1.178],[4.24,1.143],[4.33,1.196],[4.42,1.121],[4.51,1.159],[4.69,1.185],[4.78,1.118],[4.87,1.163],[4.98,1.137],
[1.45,1.025],[1.65,1.006],[2.58,1.084],[2.66,1.037],[2.74,1.071],[2.83,1.012],[2.92,1.058],[3.01,1.093],[3.10,1.026],[3.19,1.067],[3.28,1.041],[3.37,1.085],[3.46,1.008],[3.55,1.054],[3.64,1.079],[3.73,1.022],[3.82,1.063],[3.91,1.097],[4.00,1.034],[4.09,1.071],[4.18,1.015],[4.27,1.052],[4.36,1.088],[4.45,1.029],[4.63,1.062],[4.72,1.005],[4.81,1.043],[4.90,1.081],[4.99,1.018],[2.40,1.095],
[1.40,.99],[1.57,.953],[1.69,.972],[3.02,.985],[3.11,.942],[3.20,.968],[3.29,.916],[3.38,.991],[3.47,.953],[3.56,.928],[3.65,.975],[3.74,.907],[3.83,.948],[3.92,.986],[4.01,.923],[4.10,.962],[4.19,.904],[4.28,.977],[4.37,.939],[4.46,.995],[4.55,.918],[4.73,.958],[4.82,.987],[4.97,.932],
[2.76,.853],[3.02,.812],[3.48,.884],[3.57,.846],[3.66,.871],[3.75,.818],[3.84,.862],[3.93,.893],[4.02,.837],[4.11,.874],[4.20,.809],[4.29,.852],[4.38,.889],[4.47,.826],[4.56,.865],[4.65,.843],[4.74,.896],[4.83,.815],[4.92,.858],[3.25,.882],
[3.02,.79],[3.55,.763],[3.90,.784],[3.99,.742],[4.08,.776],[4.17,.719],[4.26,.761],[4.35,.795],[4.44,.734],[4.53,.772],[4.62,.708],[4.71,.756],[4.80,.788],[4.89,.727],[4.98,.769],[3.42,.712],
[3.68,.668],[4.30,.672],[4.41,.638],[4.52,.687],[4.63,.615],[4.74,.662],[4.85,.694],[4.96,.627],[4.58,.653],[3.93,.634],
[4.23,.58],[4.70,.582],[4.81,.547],[4.93,.571],[4.65,.503]];
const deficitOOk=[
[.55,1.412],[.58,1.451],[.79,1.415],[1.11,1.489],[1.15,1.492],[1.62,1.405],[2.01,1.441],[2.80,1.484],[4.05,1.492],[4.67,1.479],[2.49,1.435],[3.55,1.42],[1.38,1.442],
[.53,1.386],[.57,1.342],[.62,1.311],[.68,1.371],[.78,1.352],[.86,1.324],[.93,1.389],[1.02,1.341],[1.12,1.312],[1.18,1.364],[1.90,1.33],[2.40,1.39],[2.95,1.345],[3.55,1.308],[4.15,1.39],[4.60,1.335],[1.48,1.31],[2.21,1.313],
[.52,1.276],[.58,1.232],[.65,1.291],[.73,1.247],[.81,1.215],[.89,1.268],[.97,1.239],[1.05,1.286],[1.13,1.221],[1.27,1.254],[1.35,1.292],[1.43,1.228],[1.51,1.265],[1.58,1.205],[2.18,1.258],[2.70,1.238],[3.15,1.209],[3.60,1.262],[4.05,1.217],[4.65,1.281],[4.90,1.297],[1.68,1.208],[2.90,1.282],
[.53,1.138],[.59,1.181],[.66,1.114],[.74,1.162],[.82,1.127],[.90,1.193],[.98,1.145],[1.06,1.108],[1.14,1.172],[1.22,1.131],[1.30,1.189],[1.47,1.117],[1.65,1.184],[1.73,1.126],[1.81,1.168],[1.89,1.105],[1.97,1.149],[2.05,1.122],[2.12,1.104],[2.58,1.115],[3.00,1.196],[3.48,1.103],[3.92,1.192],[4.38,1.165],[4.60,1.135],[4.93,1.195],[1.55,1.102],
[.52,1.047],[.58,1.089],[.65,1.013],[.72,1.065],[.80,1.032],[.88,1.094],[.96,1.008],[1.04,1.058],[1.12,1.081],[1.20,1.024],[1.28,1.066],[1.36,1.047],[1.53,1.083],[1.61,1.042],[1.69,1.096],[1.77,1.019],[1.85,1.061],[1.93,1.037],[2.01,1.087],[2.09,1.009],[2.17,1.053],[2.25,1.029],[2.33,1.072],[2.45,1.014],[2.54,1.043],[3.05,1.002],[3.88,1.048],[4.52,1.091],[4.87,1.022],[1.02,1.006],
[.51,.958],[.57,.913],[.63,.982],[.70,.937],[.77,.905],[.84,.969],[.91,.928],[.98,.994],[1.05,.951],[1.12,.916],[1.19,.978],[1.26,.941],[1.33,.904],[1.47,.925],[1.64,.918],[1.78,.961],[1.85,.906],[1.92,.987],[1.99,.943],[2.06,.921],[2.13,.972],[2.20,.935],[2.27,.996],[2.34,.912],[2.41,.958],[2.48,.931],[2.55,.984],[2.62,.909],[2.69,.952],[2.76,.926],[2.83,.908],[2.90,.944],[3.58,.990],[4.25,.948],[4.64,.973],[4.88,.911],
[.52,.873],[.58,.826],[.64,.857],[.70,.805],[.76,.889],[.83,.842],[.89,.868],[.95,.813],[1.01,.877],[1.08,.834],[1.14,.896],[1.20,.851],[1.27,.812],[1.33,.874],[1.40,.839],[1.46,.862],[1.53,.806],[1.59,.885],[1.66,.847],[1.72,.823],[1.79,.871],[1.85,.834],[1.92,.892],[1.98,.815],[2.05,.857],[2.11,.881],[2.18,.828],[2.24,.863],[2.31,.809],[2.37,.846],[2.44,.894],[2.50,.831],[2.57,.868],[2.63,.812],[2.70,.885],[2.89,.836],[2.96,.874],[3.14,.821],[3.35,.842],[4.44,.871],
[.51,.741],[.57,.783],[.63,.714],[.69,.762],[.75,.731],[.81,.794],[.87,.749],[.93,.712],[.99,.772],[1.05,.738],[1.11,.788],[1.17,.706],[1.23,.755],[1.29,.724],[1.35,.781],[1.41,.746],[1.47,.711],[1.53,.768],[1.59,.733],[1.65,.796],[1.71,.752],[1.77,.719],[1.83,.774],[1.89,.741],[1.95,.708],[2.01,.785],[2.07,.757],[2.13,.726],[2.19,.763],[2.25,.792],[2.31,.734],[2.37,.771],[2.43,.716],[2.49,.748],[2.55,.781],[2.61,.725],[2.67,.762],[2.73,.703],[2.79,.757],[2.91,.728],[3.09,.776],[3.24,.745],[3.61,.722],[4.32,.738],
[.52,.672],[.57,.628],[.63,.691],[.68,.645],[.74,.609],[.80,.667],[.86,.632],[.92,.698],[.98,.651],[1.04,.617],[1.10,.684],[1.16,.642],[1.22,.603],[1.28,.675],[1.34,.638],[1.40,.696],[1.46,.621],[1.52,.659],[1.58,.687],[1.64,.613],[1.70,.648],[1.76,.681],[1.82,.624],[1.88,.667],[1.94,.602],[2.00,.694],[2.06,.637],[2.12,.671],[2.18,.615],[2.24,.656],[2.30,.689],[2.36,.628],[2.42,.662],[2.48,.607],[2.54,.683],[2.60,.641],[2.66,.676],[2.72,.619],[2.78,.654],[2.84,.693],[2.90,.631],[2.98,.668],[3.08,.612],[3.19,.649],[3.30,.686],[3.41,.623],[3.52,.661],[3.80,.607],[4.05,.645],[4.15,.613],
[.51,.563],[.56,.527],[.61,.585],[.66,.512],[.72,.548],[.77,.592],[.83,.531],[.88,.569],[.94,.506],[.99,.553],[1.05,.588],[1.10,.521],[1.16,.564],[1.21,.537],[1.27,.596],[1.32,.514],[1.38,.558],[1.43,.582],[1.49,.525],[1.54,.571],[1.60,.503],[1.65,.546],[1.71,.589],[1.76,.532],[1.82,.567],[1.87,.511],[1.93,.553],[1.98,.594],[2.04,.528],[2.09,.572],[2.15,.508],[2.20,.549],[2.26,.583],[2.31,.519],[2.37,.561],[2.42,.536],[2.48,.597],[2.53,.515],[2.59,.556],[2.64,.578],[2.70,.524],[2.75,.563],[2.81,.502],[2.92,.545],[3.03,.587],[3.14,.521],[3.25,.559],[3.36,.534],[3.47,.592],[3.58,.512],[3.69,.551],[3.80,.578],[3.91,.526],[4.02,.563],[4.98,.592]];

const colors={ok:"#a6cee3",okRegion:"#1f78b4",fail:"#e31a1c",failRegion:"#fb9a99"};
const ink="#231f20";
const svg=d3.select("#fig");
svg.append("rect").attr("width",835).attr("height",892).attr("fill","#fff");

function drawPanel(p){
  const x=d3.scaleLinear().domain(p.xDomain).range([p.left,p.left+p.width]);
  const y=d3.scaleLinear().domain(mDomain).range([p.top+p.height,p.top]);
  const g=svg.append("g");
  g.append("rect").attr("x",p.left).attr("y",p.top).attr("width",p.width).attr("height",p.height).attr("fill",colors.okRegion);
  const corners={tl:[p.xDomain[0],mDomain[1]],tr:[p.xDomain[1],mDomain[1]],bl:[p.xDomain[0],mDomain[0]],br:[p.xDomain[1],mDomain[0]]};
  const poly=[p.boundary[0],p.boundary[1],...p.failCorners.map(k=>corners[k])];
  g.append("polygon").attr("points",poly.map(d=>x(d[0])+","+y(d[1])).join(" ")).attr("fill",colors.failRegion);
  const r=3.4;
  g.append("g").selectAll("circle").data(p.fail).join("circle")
    .attr("cx",d=>x(d[0])).attr("cy",d=>y(d[1])).attr("r",r).attr("fill",colors.fail);
  g.append("g").selectAll("circle").data(p.ok).join("circle")
    .attr("cx",d=>x(d[0])).attr("cy",d=>y(d[1])).attr("r",r).attr("fill",colors.ok);

  const xa=d3.axisBottom(x).tickValues(p.xTicks).tickFormat(d3.format(".2f")).tickSize(0).tickPadding(10);
  g.append("g").attr("transform",`translate(0,${p.top+p.height})`).call(xa)
    .call(s=>s.select(".domain").remove())
    .selectAll("text").attr("font-family","DejaVu Sans").attr("font-size",18.5).attr("fill","#262626");
  const ya=d3.axisLeft(y).tickValues(mTicks).tickFormat(d3.format(".1f")).tickSize(0).tickPadding(10);
  g.append("g").attr("transform",`translate(${p.left},0)`).call(ya)
    .call(s=>s.select(".domain").remove())
    .selectAll("text").attr("font-family","DejaVu Sans").attr("font-size",18.5).attr("fill","#262626");

  // axis labels
  const xl=g.append("text").attr("x",p.left+p.width/2).attr("y",p.top+p.height+52)
    .attr("text-anchor","middle").attr("font-family","Liberation Serif").attr("font-style","italic")
    .attr("font-size",29).attr("fill","#262626");
  xl.append("tspan").text("m");
  xl.append("tspan").attr("font-size",19).attr("dy",6).text(p.xSub);
  const yl=g.append("text").attr("transform",`translate(${p.left-59},${p.top+p.height/2}) rotate(-90)`)
    .attr("text-anchor","middle").attr("font-family","Liberation Serif").attr("font-style","italic")
    .attr("font-size",29).attr("fill","#262626");
  yl.append("tspan").text("m");
  yl.append("tspan").attr("font-size",19).attr("dy",6).text(p.ySub);
  if(p.ySub2) yl.append("tspan").attr("font-size",13).attr("font-style","normal").attr("dy",4).text(p.ySub2);

  svg.append("text").attr("x",p.left-72).attr("y",p.top+29).attr("font-family","Open Sans")
    .attr("font-size",30).attr("fill",ink).text(p.letter);
}

drawPanel({letter:"a)",left:87,top:40,width:325,height:245,xDomain:muDomain,xTicks:muTicks,
  boundary:boundaryHydroSigma,failCorners:["tl"],ok:hydroSigmaOk,fail:hydroSigmaFail,xSub:"μ",ySub:"σ"});
drawPanel({letter:"b)",left:509,top:40,width:325,height:245,xDomain:muDomain,xTicks:muTicks,
  boundary:boundaryHydroC1,failCorners:["bl"],ok:hydroC1Ok,fail:hydroC1Fail,xSub:"μ",ySub:"C",ySub2:"1"});
drawPanel({letter:"c)",left:87,top:394,width:325,height:245,xDomain:muDomain,xTicks:muTicks,
  boundary:boundaryDeficitMu,failCorners:["tr","tl"],ok:deficitMuOk,fail:deficitMuFail,xSub:"μ",ySub:"ag"});
drawPanel({letter:"d)",left:509,top:394,width:325,height:245,xDomain:oDomain,xTicks:oTicks,
  boundary:boundaryDeficitO,failCorners:["br","tr"],ok:deficitOOk,fail:deficitOFail,xSub:"o",ySub:"ag"});

// Row titles
function title(t,x,yb,len){
  svg.append("text").attr("x",x).attr("y",yb).attr("font-family","Open Sans").attr("font-size",24)
    .attr("fill",ink).attr("textLength",len).attr("lengthAdjust","spacingAndGlyphs").text(t);
}
title("Hydro Failures of Most Robust Solution for Hydropower",120,29,680);
title("Deficit Failures of Most Robust Solution for Supply Deficit",109,383,701);

// Legend
const legend=[{label:"Success",dot:colors.ok,region:colors.okRegion,cy:769,len:94},
              {label:"Failure",dot:colors.fail,region:colors.failRegion,cy:866,len:81}];
legend.forEach(l=>{
  svg.append("text").attr("x",83).attr("y",l.cy+8).attr("font-family","Open Sans").attr("font-size",26)
    .attr("fill","#000").attr("textLength",l.len).attr("lengthAdjust","spacingAndGlyphs").text(l.label);
  svg.append("circle").attr("cx",217).attr("cy",l.cy).attr("r",28).attr("fill",l.dot);
  svg.append("line").attr("x1",251).attr("y1",l.cy+26).attr("x2",282).attr("y2",l.cy-28)
    .attr("stroke","#000").attr("stroke-width",2);
  svg.append("rect").attr("x",290).attr("y",l.cy-28).attr("width",63).attr("height",56).attr("fill",l.region);
});

// Definition box
svg.append("rect").attr("x",407).attr("y",740).attr("width",428).attr("height",152).attr("fill","#eaeaf2");
const defFont="Open Sans";
svg.append("text").attr("x",475).attr("y",782).attr("font-family",defFont).attr("font-size",28)
  .attr("fill","#000").attr("textLength",307).attr("lengthAdjust","spacingAndGlyphs").text("Definition of Success:");
function criterion(yb,sub,subLen){
  const t=svg.append("text").attr("x",429).attr("y",yb).attr("font-family",defFont).attr("font-size",28).attr("fill","#000");
  t.append("tspan").text("P(");
  t.append("tspan").attr("font-style","italic").text("J");
  svg.append("text").attr("x",465).attr("y",yb+12).attr("font-family",defFont).attr("font-style","italic")
    .attr("font-size",17).attr("fill","#000").attr("textLength",subLen).attr("lengthAdjust","spacingAndGlyphs").text(sub);
  return svg.append("text").attr("y",yb).attr("font-family",defFont).attr("font-size",28).attr("fill","#000");
}
criterion(825,"Hydro",52).attr("x",527).attr("textLength",290).attr("lengthAdjust","spacingAndGlyphs")
  .text("≥ 25 Gwh/day) ≥ 0.5");
const c2=criterion(867,"Max Def",72).attr("x",540);
c2.append("tspan").text("≤ 350 m");
c2.append("tspan").attr("font-size",16).attr("dy",-12).text("3");
c2.append("tspan").attr("dy",12).text("/s) ≥ 0.75");
</script>
</body></html>
